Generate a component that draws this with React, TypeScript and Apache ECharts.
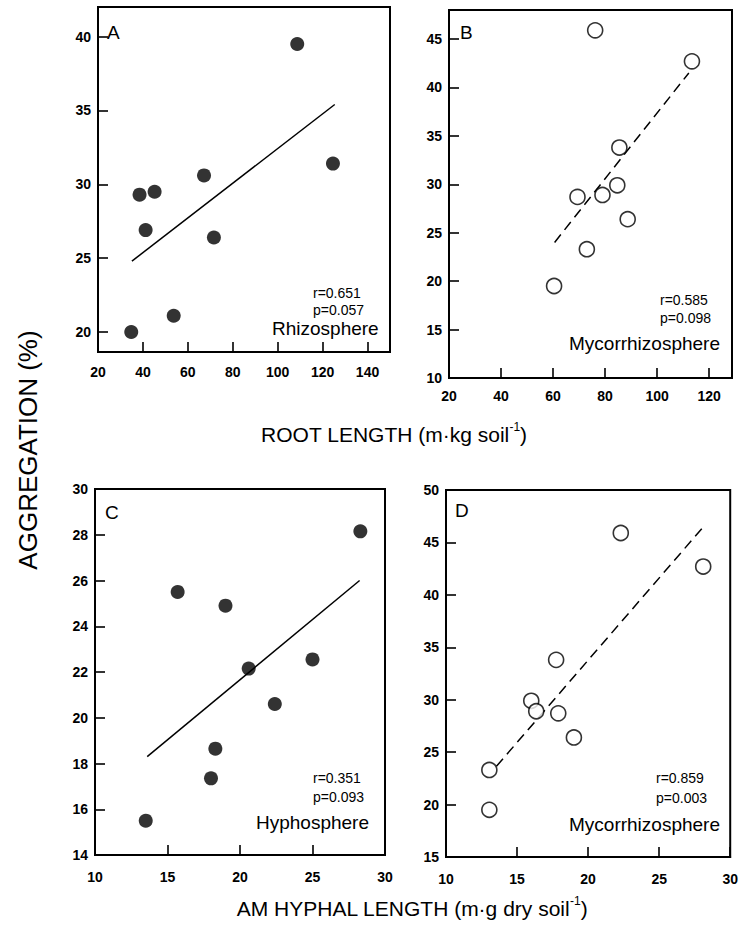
import React, { useEffect, useRef } from "react";
import * as echarts from "echarts";

// Panel A: root length vs aggregation (rhizosphere)
const rootA = [108.7, 124.6, 67.2, 38.5, 45.2, 41.2, 71.6, 53.7, 34.8];
const aggA = [39.5, 31.4, 30.6, 29.3, 29.5, 26.9, 26.4, 21.1, 20.0];
const fitAx = [35.1, 125.4];
const fitAy = [24.8, 35.4];

// Panel B: root length vs aggregation (mycorrhizosphere)
const rootB = [76.2, 113.4, 85.5, 84.7, 79.0, 69.4, 88.7, 73.0, 60.4];
const aggMyc = [45.9, 42.7, 33.8, 29.9, 28.9, 28.7, 26.4, 23.3, 19.5];
const fitBx = [60.6, 112.2];
const fitBy = [24.0, 41.5];

// Panel C: AM hyphal length vs aggregation (hyphosphere)
const hyphC = [28.3, 15.7, 19.0, 20.6, 25.0, 22.4, 18.3, 18.0, 13.5];
const aggC = [28.15, 25.5, 24.9, 22.15, 22.55, 20.6, 18.65, 17.35, 15.5];
const fitCx = [13.6, 28.25];
const fitCy = [18.3, 26.0];

// Panel D: AM hyphal length vs aggregation (mycorrhizosphere)
const hyphD = [22.3, 28.1, 17.75, 16.0, 16.35, 17.9, 19.0, 13.05, 13.05];
const fitDx = [13.55, 28.15];
const fitDy = [23.65, 46.55];

// tick labels
const ticksAx = [20, 40, 60, 80, 100, 120, 140];
const ticksAy = [20, 25, 30, 35, 40];
const ticksBx = [20, 40, 60, 80, 100, 120];
const ticksBy = [10, 15, 20, 25, 30, 35, 40, 45];
const ticksCx = [10, 15, 20, 25, 30];
const ticksCy = [14, 16, 18, 20, 22, 24, 26, 28, 30];
const ticksDx = [10, 15, 20, 25, 30];
const ticksDy = [15, 20, 25, 30, 35, 40, 45, 50];

const panelLetters = ["A", "B", "C", "D"];
const stats = [
  ["r=0.651", "p=0.057", "Rhizosphere"],
  ["r=0.585", "p=0.098", "Mycorrhizosphere"],
  ["r=0.351", "p=0.093", "Hyphosphere"],
  ["r=0.859", "p=0.003", "Mycorrhizosphere"],
];

const FONT = "'Liberation Sans', Arial, Helvetica, sans-serif";

const zip = (xs: number[], ys: number[]) => xs.map((x, i) => [x, ys[i]]);

function makeAxis(
  gridIndex: number,
  min: number,
  max: number,
  ticks: number[],
  margin: number
) {
  return {
    type: "value",
    gridIndex,
    min,
    max,
    axisLine: { show: true, onZero: false, lineStyle: { color: "#000", width: 2 } },
    axisTick: {
      show: true,
      inside: true,
      length: 10,
      customValues: ticks,
      lineStyle: { color: "#000", width: 1.6 },
    },
    axisLabel: {
      show: true,
      customValues: ticks,
      margin,
      color: "#000",
      fontSize: 14,
      fontWeight: "bold",
      fontFamily: FONT,
    },
    splitLine: { show: false },
  };
}

export default function App() {
  const ref = useRef<HTMLDivElement>(null);
  useEffect(() => {
    if (!ref.current) return;
    const chart = echarts.init(ref.current, null, { renderer: "svg" });
    const gridStyle = { show: true, borderColor: "#000", borderWidth: 2, containLabel: false };
    const grids = [
      { left: 98, top: 7, width: 292, height: 345, ...gridStyle },
      { left: 449, top: 10, width: 283, height: 368, ...gridStyle },
      { left: 95, top: 489, width: 290, height: 366, ...gridStyle },
      { left: 446, top: 490, width: 287, height: 367, ...gridStyle },
    ];
    const xAxes = [
      makeAxis(0, 20, 150, ticksAx, 13),
      makeAxis(1, 20, 128.8, ticksBx, 11),
      makeAxis(2, 10, 30, ticksCx, 15),
      makeAxis(3, 10, 30, ticksDx, 15),
    ];
    const yAxes = [
      makeAxis(0, 18.65, 42, ticksAy, 7),
      makeAxis(1, 10, 48, ticksBy, 7),
      makeAxis(2, 14, 30, ticksCy, 7),
      makeAxis(3, 15, 50, ticksDy, 7),
    ];
    const filled = (i: number, xs: number[], ys: number[]) => ({
      type: "scatter",
      xAxisIndex: i,
      yAxisIndex: i,
      data: zip(xs, ys),
      symbol: "circle",
      symbolSize: 14,
      itemStyle: { color: "#000" },
      z: 5,
    });
    const open = (i: number, xs: number[], ys: number[]) => ({
      type: "scatter",
      xAxisIndex: i,
      yAxisIndex: i,
      data: zip(xs, ys),
      symbol: "circle",
      symbolSize: 15,
      itemStyle: { color: "#fff", borderColor: "#000", borderWidth: 1.6 },
      z: 5,
    });
    const fit = (i: number, xs: number[], ys: number[], dashed: boolean) => ({
      type: "line",
      xAxisIndex: i,
      yAxisIndex: i,
      data: zip(xs, ys),
      showSymbol: false,
      symbol: "none",
      lineStyle: { color: "#000", width: 1.5, type: dashed ? [10, 6] : "solid" },
      z: 3,
    });

    const letterPos = [
      [107, 32],
      [460, 32],
      [105, 512],
      [455, 510],
    ];
    // [stat x, r y, p y, name x, name y]
    const statPos = [
      [313, 293, 310, 272, 328],
      [660, 300, 318, 569, 343],
      [313, 778, 797, 256, 822],
      [656, 778, 798, 569, 824],
    ];
    const graphics: any[] = [];
    panelLetters.forEach((t, i) => {
      graphics.push({
        type: "text",
        x: letterPos[i][0],
        y: letterPos[i][1],
        style: {
          text: t,
          fontSize: 19,
          fontFamily: FONT,
          fill: "#000",
          verticalAlign: "middle",
          align: "left",
        },
      });
    });
    stats.forEach((s, i) => {
      const [sx, ry, py, nx, ny] = statPos[i];
      graphics.push({
        type: "text",
        x: sx,
        y: ry,
        style: { text: s[0], fontSize: 14, fontFamily: FONT, fill: "#000", verticalAlign: "middle" },
      });
      graphics.push({
        type: "text",
        x: sx,
        y: py,
        style: { text: s[1], fontSize: 14, fontFamily: FONT, fill: "#000", verticalAlign: "middle" },
      });
      graphics.push({
        type: "text",
        x: nx,
        y: ny,
        style: { text: s[2], fontSize: 19, fontFamily: FONT, fill: "#000", verticalAlign: "middle" },
      });
    });
    graphics.push({
      type: "text",
      x: 28,
      y: 450,
      rotation: Math.PI / 2,
      style: {
        text: "AGGREGATION (%)",
        fontSize: 26,
        fontFamily: FONT,
        fill: "#000",
        align: "center",
        verticalAlign: "middle",
      },
    });
    const supRich = {
      m: { fontSize: 21, fontFamily: FONT, fill: "#000", lineHeight: 26 },
      s: { fontSize: 12, fontFamily: FONT, fill: "#000", lineHeight: 26, verticalAlign: "top", padding: [0, 0, 8, 0] },
    };
    graphics.push({
      type: "text",
      x: 394,
      y: 434,
      style: {
        text: "{m|ROOT LENGTH (m·kg soil}{s|-1}{m|)}",
        rich: supRich,
        align: "center",
        verticalAlign: "middle",
      },
    });
    graphics.push({
      type: "text",
      x: 412,
      y: 908,
      style: {
        text: "{m|AM HYPHAL LENGTH (m·g dry soil}{s|-1}{m|)}",
        rich: supRich,
        align: "center",
        verticalAlign: "middle",
      },
    });

    chart.setOption({
      animation: false,
      backgroundColor: "#fff",
      grid: grids,
      xAxis: xAxes,
      yAxis: yAxes,
      series: [
        fit(0, fitAx, fitAy, false),
        filled(0, rootA, aggA),
        fit(1, fitBx, fitBy, true),
        open(1, rootB, aggMyc),
        fit(2, fitCx, fitCy, false),
        filled(2, hyphC, aggC),
        fit(3, fitDx, fitDy, true),
        open(3, hyphD, aggMyc),
      ],
      graphic: graphics,
    });
    return () => chart.dispose();
  }, []);
  return (
    <div
      ref={ref}
      style={{ position: "fixed", left: 0, top: 0, width: 741, height: 926, background: "#fff" }}
    />
  );
}
